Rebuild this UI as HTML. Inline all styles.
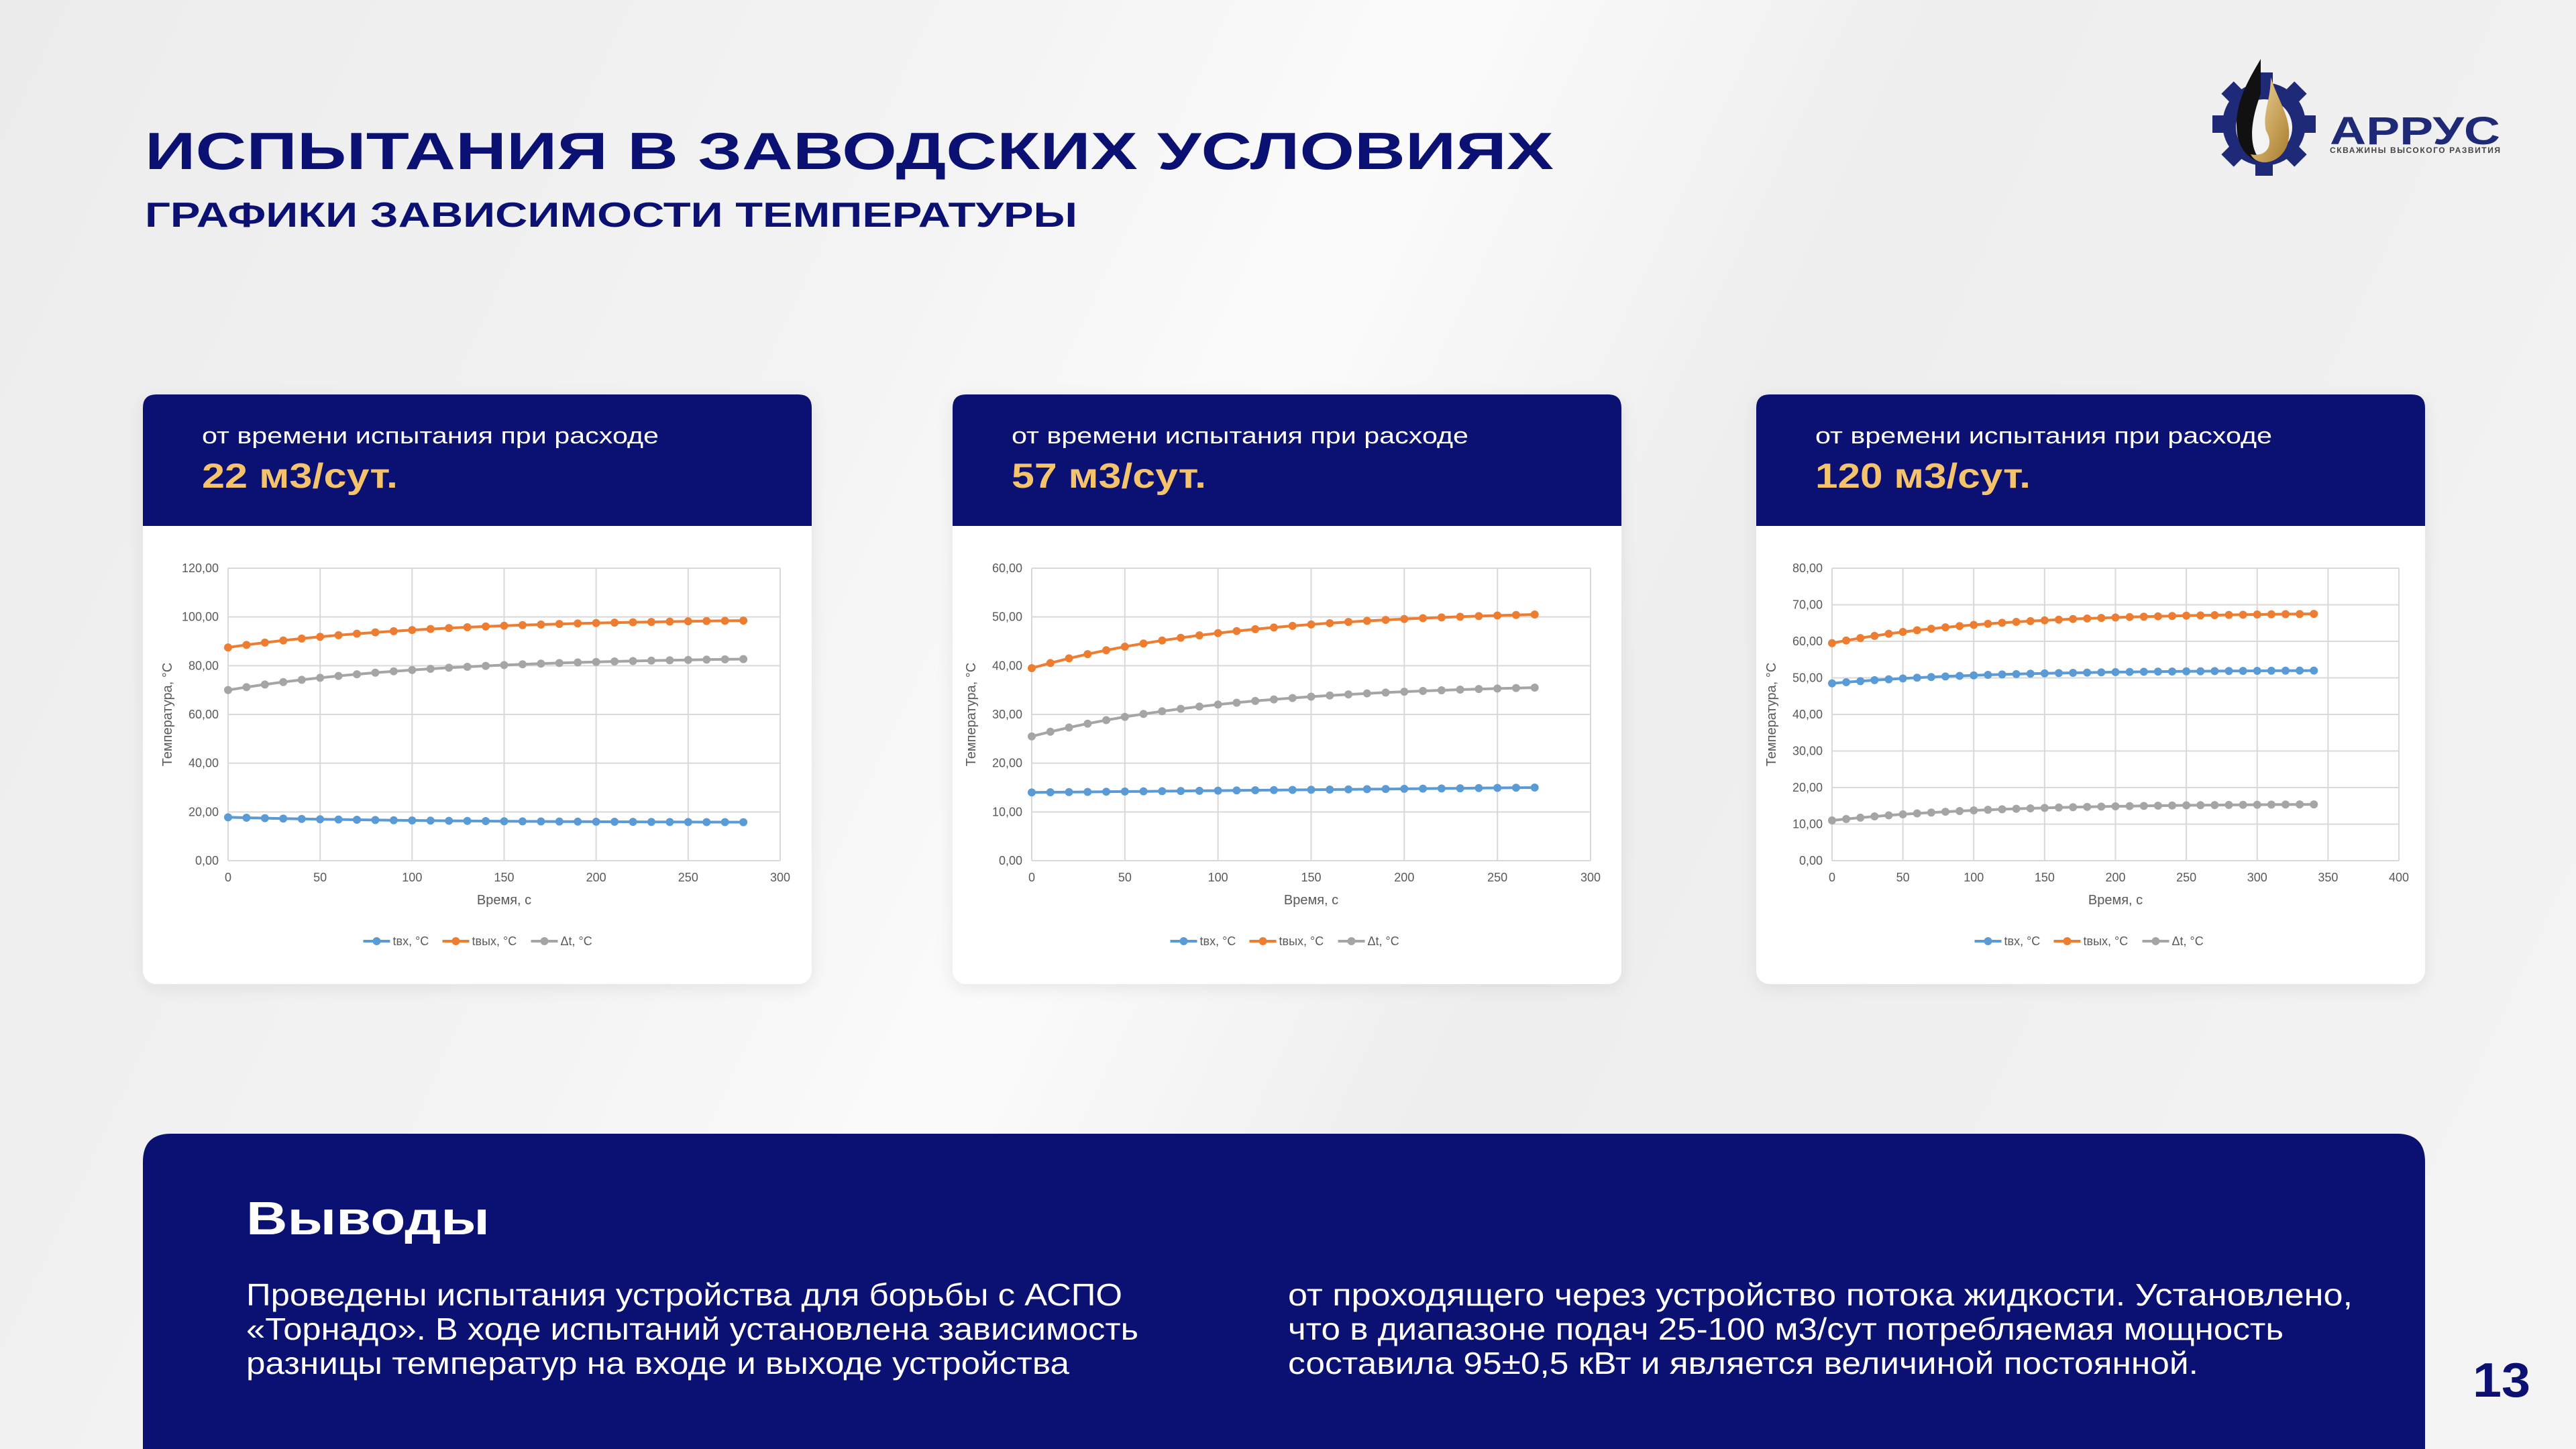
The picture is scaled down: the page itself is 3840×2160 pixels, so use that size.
<!DOCTYPE html>
<html><head><meta charset="utf-8">
<style>
html,body{margin:0;padding:0;}
body{width:3840px;height:2160px;overflow:hidden;background:linear-gradient(115deg,#ececec 0%,#f3f3f3 30%,#fbfbfb 45%,#eeeeee 60%,#f4f4f4 100%);font-family:"Liberation Sans","DejaVu Sans",sans-serif;}
svg{display:block;}
</style></head>
<body>
<svg id="s" width="3840" height="2160" viewBox="0 0 3840 2160" xmlns="http://www.w3.org/2000/svg" font-family="Liberation Sans, DejaVu Sans, sans-serif">
<defs>
<filter id="sh" x="-5%" y="-5%" width="110%" height="110%"><feDropShadow dx="0" dy="6" stdDeviation="12" flood-color="#000" flood-opacity="0.08"/></filter>
<linearGradient id="gold" x1="0" y1="0" x2="1" y2="1"><stop offset="0" stop-color="#f4dca0"/><stop offset="1" stop-color="#a87a2a"/></linearGradient>
</defs>
<text x="216" y="252" font-size="78" font-weight="bold" fill="#0b1173" textLength="2100" lengthAdjust="spacingAndGlyphs">ИСПЫТАНИЯ В ЗАВОДСКИХ УСЛОВИЯХ</text>
<text x="216" y="338" font-size="52" font-weight="bold" fill="#0b1173" textLength="1390" lengthAdjust="spacingAndGlyphs">ГРАФИКИ ЗАВИСИМОСТИ ТЕМПЕРАТУРЫ</text>
<g>
<circle cx="3375" cy="185" r="62" fill="#1e2a78"/>
<g fill="#1e2a78">
<rect x="3362" y="108" width="26" height="30"/><rect x="3362" y="232" width="26" height="30"/>
<rect x="3298" y="172" width="30" height="26"/><rect x="3422" y="172" width="30" height="26"/>
<rect x="3362" y="108" width="26" height="30" transform="rotate(45 3375 185)"/><rect x="3362" y="108" width="26" height="30" transform="rotate(-45 3375 185)"/>
<rect x="3362" y="232" width="26" height="30" transform="rotate(45 3375 185)"/><rect x="3362" y="232" width="26" height="30" transform="rotate(-45 3375 185)"/>
</g>
<circle cx="3375" cy="190" r="42" fill="#f3f3f3"/>
<path d="M3370 88 C3345 130 3330 160 3335 200 C3340 230 3360 240 3372 242 C3350 220 3355 180 3370 140 Z" fill="#111"/>
<path d="M3385 115 C3395 150 3420 180 3410 215 C3400 245 3365 250 3355 230 C3380 235 3390 215 3378 195 C3372 170 3385 150 3385 115 Z" fill="url(#gold)"/>
<text x="3473" y="215" font-size="58" font-weight="bold" fill="#1e2a78" textLength="254" lengthAdjust="spacingAndGlyphs">АРРУС</text>
<text x="3473" y="228" font-size="12" font-weight="bold" fill="#444" textLength="254" lengthAdjust="spacing">СКВАЖИНЫ ВЫСОКОГО РАЗВИТИЯ</text>
</g>
<g id="charts"></g>
<path d="M213 2160 V1732 Q213 1690 255 1690 H3573 Q3615 1690 3615 1732 V2160 Z" fill="#0b1173"/>
<text x="367" y="1840" font-size="70" font-weight="bold" fill="#fff" textLength="363" lengthAdjust="spacingAndGlyphs">Выводы</text>
<g font-size="46" fill="#fff">
<text x="367" y="1946" textLength="1306" lengthAdjust="spacingAndGlyphs">Проведены испытания устройства для борьбы с АСПО</text>
<text x="367" y="1997" textLength="1330" lengthAdjust="spacingAndGlyphs">«Торнадо». В ходе испытаний установлена зависимость</text>
<text x="367" y="2048" textLength="1227" lengthAdjust="spacingAndGlyphs">разницы температур на входе и выходе устройства</text>
<text x="1920" y="1946" textLength="1587" lengthAdjust="spacingAndGlyphs">от проходящего через устройство потока жидкости. Установлено,</text>
<text x="1920" y="1997" textLength="1484" lengthAdjust="spacingAndGlyphs">что в диапазоне подач 25-100 м3/сут потребляемая мощность</text>
<text x="1920" y="2048" textLength="1357" lengthAdjust="spacingAndGlyphs">составила 95±0,5 кВт и является величиной постоянной.</text>
</g>
<text x="3686" y="2082" font-size="72" font-weight="bold" fill="#0b1173" textLength="86" lengthAdjust="spacingAndGlyphs">13</text>
</svg>
<script>
var NS="http://www.w3.org/2000/svg",G=document.getElementById("charts");
function el(t,a,txt){var e=document.createElementNS(NS,t);for(var k in a)e.setAttribute(k,a[k]);if(txt!=null)e.textContent=txt;G.appendChild(e);return e;}
function curve(a,b,T){return function(t){var k=1/110;return a+(b-a)*(1-Math.exp(-k*t))/(1-Math.exp(-k*T));};}
var C=[
 {cx:213,rate:"22 м3/сут.",rw:292,px:340,pw:823,xmax:300,xstep:50,ymax:120,ystep:20,T:280,
  s:[curve(17.8,15.8,280),curve(87.5,98.5,280),curve(70,82.7,280)]},
 {cx:1420,rate:"57 м3/сут.",rw:290,px:1538,pw:833,xmax:300,xstep:50,ymax:60,ystep:10,T:270,
  s:[function(t){return 14+t/270*1.0;},curve(39.5,50.5,270),curve(25.5,35.5,270)]},
 {cx:2618,rate:"120 м3/сут.",rw:321,px:2731,pw:845,xmax:400,xstep:50,ymax:80,ystep:10,T:340,
  s:[curve(48.5,52,340),curve(59.5,67.5,340),curve(11,15.4,340)]}
];
var cols=["#5b9bd5","#ed7d31","#a5a5a5"],names=["tвх, °С","tвых, °С","Δt, °С"];
C.forEach(function(c){
 var x0=c.cx,w=997,y0=588,h=879;
 el("rect",{x:x0,y:y0,width:w,height:h,rx:20,fill:"#fff",filter:"url(#sh)"});
 el("path",{d:"M"+x0+" "+(y0+196)+"V"+(y0+20)+"Q"+x0+" "+y0+" "+(x0+20)+" "+y0+"H"+(x0+w-20)+"Q"+(x0+w)+" "+y0+" "+(x0+w)+" "+(y0+20)+"V"+(y0+196)+"Z",fill:"#0b1173"});
 el("text",{x:x0+88,y:661,"font-size":34,fill:"#fff",textLength:681,lengthAdjust:"spacingAndGlyphs"},"от времени испытания при расходе");
 el("text",{x:x0+88,y:727,"font-size":52,"font-weight":"bold",fill:"#f6c36d",textLength:c.rw,lengthAdjust:"spacingAndGlyphs"},c.rate);
 var py=847,ph=436,px=c.px,pw=c.pw;
 function X(v){return px+v/c.xmax*pw;} function Y(v){return py+ph-v/c.ymax*ph;}
 for(var v=0;v<=c.ymax;v+=c.ystep){el("line",{x1:px,x2:px+pw,y1:Y(v),y2:Y(v),stroke:"#d9d9d9","stroke-width":2});
  el("text",{x:px-14,y:Y(v)+6,"font-size":18,fill:"#595959","text-anchor":"end"},v.toFixed(2).replace(".",","));}
 for(var v=0;v<=c.xmax;v+=c.xstep){el("line",{x1:X(v),x2:X(v),y1:py,y2:py+ph,stroke:"#d9d9d9","stroke-width":2});
  el("text",{x:X(v),y:1314,"font-size":18,fill:"#595959","text-anchor":"middle"},String(v));}
 el("text",{x:px+pw/2,y:1348,"font-size":20,fill:"#595959","text-anchor":"middle"},"Время, с");
 el("text",{x:0,y:0,"font-size":20,fill:"#595959","text-anchor":"middle",transform:"translate("+(px-84)+" "+(py+ph/2)+") rotate(-90)"},"Температура, °С");
 c.s.forEach(function(f,i){var pts=[];for(var t=0;t<=c.T;t+=10)pts.push([X(t),Y(f(t))]);
  el("polyline",{points:pts.map(function(p){return p[0].toFixed(1)+","+p[1].toFixed(1)}).join(" "),fill:"none",stroke:cols[i],"stroke-width":4});
  pts.forEach(function(p){el("circle",{cx:p[0],cy:p[1],r:6,fill:cols[i]});});});
 var lx=px+pw/2-210,ly=1403;
 [0,1,2].forEach(function(i){var o=[0,118,250][i];
  el("line",{x1:lx+o,x2:lx+o+40,y1:ly,y2:ly,stroke:cols[i],"stroke-width":4});
  el("circle",{cx:lx+o+20,cy:ly,r:6,fill:cols[i]});
  el("text",{x:lx+o+44,y:ly+6,"font-size":18,fill:"#595959"},names[i]);});
});
</script>
</body></html>
